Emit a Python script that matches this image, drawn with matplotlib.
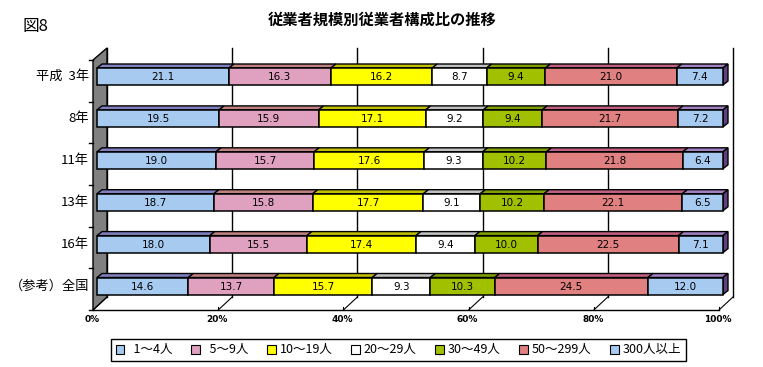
import numpy as np
import matplotlib
matplotlib.use("Agg")
import matplotlib.pyplot as plt
from matplotlib.patches import Polygon, Rectangle

plt.rcParams['font.family'] = ['Noto Sans CJK JP', 'DejaVu Sans']

# data
rows = ["平成  3年", "8年", "11年", "13年", "16年", "（参考）全国"]
sizes = ["1～4人", "5～9人", "10～19人", "20～29人", "30～49人", "50～299人", "300人以上"]
r_h03 = [21.1, 16.3, 16.2, 8.7, 9.4, 21.0, 7.4]
r_h08 = [19.5, 15.9, 17.1, 9.2, 9.4, 21.7, 7.2]
r_h11 = [19.0, 15.7, 17.6, 9.3, 10.2, 21.8, 6.4]
r_h13 = [18.7, 15.8, 17.7, 9.1, 10.2, 22.1, 6.5]
r_h16 = [18.0, 15.5, 17.4, 9.4, 10.0, 22.5, 7.1]
r_all = [14.6, 13.7, 15.7, 9.3, 10.3, 24.5, 12.0]
ticks = [0, 20, 40, 60, 80, 100]

front = ["#A6CAF0", "#E0A0C0", "#FFFF00", "#FFFFFF", "#A0C000", "#E08080", "#A6CAF0"]
top = ["#8080C0", "#C08080", "#C0C000", "#C0C0C0", "#809F00", "#C06080", "#A080C0"]
side = "#604080"

table = np.array([r_h03, r_h08, r_h11, r_h13, r_h16, r_all])

# pixel scale helpers (x: 6.26 px per %, y: 41.9 px per row)
PX, PY = 6.26, 41.9
def dx(p):
    return p / PX
def dy(p):
    return p / PY

fig = plt.figure(figsize=(7.63, 3.67), dpi=100)
ax = fig.add_axes([85 / 763, 47 / 367, 660 / 763, 280 / 367])
ax.set_xlim(dx(-12), dx(648))
ax.set_ylim(dy(320 - 76.5), dy(40 - 76.5))
ax.axis("off")

y_top_back = dy(48 - 76.5)
y_floor_back = dy(297 - 76.5)
y_floor_front = dy(310 - 76.5)
y_wall_front_top = dy(60 - 76.5)

# left wall
wall = Polygon([(dx(-4), y_wall_front_top), (dx(10), y_top_back),
                (dx(10), y_floor_back), (dx(-4), y_floor_front)],
               closed=True, facecolor="#808080", edgecolor="black", lw=1, zorder=1)
ax.add_patch(wall)
for k in range(7):
    yy = y_wall_front_top + k * (y_floor_front - y_wall_front_top) / 6
    ax.plot([dx(-8), dx(-4)], [yy, yy], color="black", lw=1, zorder=1)

# back gridlines + floor
for t in ticks:
    ax.plot([t + dx(10), t + dx(10)], [y_top_back, y_floor_back], color="black", lw=1, zorder=0)
    ax.plot([t + dx(10), t + dx(-4)], [y_floor_back, y_floor_front], color="black", lw=0.8, zorder=0)
    ax.plot([t + dx(-4), t + dx(-4)], [y_floor_front, y_floor_front - dy(3)], color="black", lw=0.8, zorder=0)
    ax.text(t + dx(-5), dy(319 - 76.5), f"{t}%", ha="center", va="center", fontsize=6.5,
            family="DejaVu Sans", fontweight="bold")
ax.plot([dx(-4), 100 + dx(-4)], [y_floor_front, y_floor_front], color="black", lw=1, zorder=0)

# bars
h = dy(17)
ddx, ddy = dx(5), dy(4)
for i, vals in enumerate(table):
    pct = vals / vals.sum() * 100
    left = np.concatenate([[0], np.cumsum(pct)[:-1]])
    ax.barh(i, pct, left=left, height=h, color=front, edgecolor="black", lw=1.1, zorder=3)
    yt = i - h / 2
    for j in range(len(pct)):
        x0, x1 = left[j], left[j] + pct[j]
        ax.add_patch(Polygon([(x0, yt), (x0 + ddx, yt - ddy), (x1 + ddx, yt - ddy), (x1, yt)],
                             closed=True, facecolor=top[j], edgecolor="black", lw=1, zorder=2))
        ax.text((x0 + x1) / 2, i + dy(0.5), f"{vals[j]:.1f}", ha="center", va="center",
                fontsize=7.5, family="DejaVu Sans", zorder=4)
    xr = left[-1] + pct[-1]
    ax.add_patch(Polygon([(xr, yt), (xr + ddx, yt - ddy), (xr + ddx, i + h / 2 - ddy), (xr, i + h / 2)],
                         closed=True, facecolor=side, edgecolor="black", lw=1, zorder=2))
    ax.text(dx(-8), i, rows[i], ha="right", va="center", fontsize=9.5)

fig.text(22 / 763, 1 - 26 / 367, "図8", fontsize=12, ha="left", va="center")
fig.text(382 / 763, 1 - 20 / 367, "従業者規模別従業者構成比の推移", fontsize=11,
         fontweight="bold", ha="center", va="center")

handles = [Rectangle((0, 0), 1, 1, facecolor=c, edgecolor="black", lw=0.8) for c in front]
labels = ["  " + sizes[0], "  " + sizes[1]] + sizes[2:]
leg = fig.legend(handles, labels, loc="center", bbox_to_anchor=(398.5 / 763, 1 - 350 / 367),
                 ncol=7, fontsize=9, frameon=True, fancybox=False, edgecolor="black",
                 framealpha=1, handlelength=0.7, handleheight=0.7, handletextpad=0.3,
                 columnspacing=1.5, borderpad=0.35)
leg.get_frame().set_linewidth(1)

fig.savefig("out.png", dpi=100)
